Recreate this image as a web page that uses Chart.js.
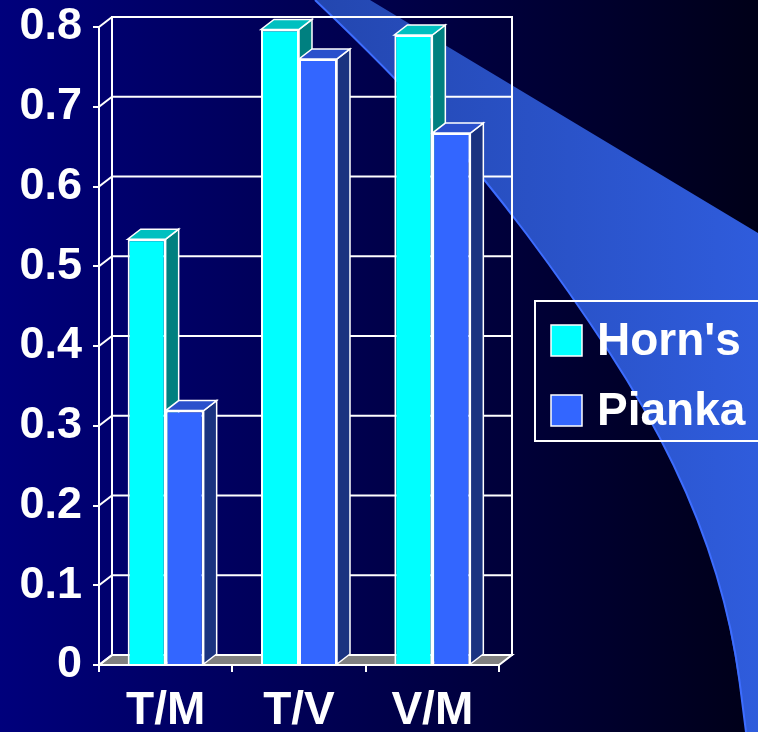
<!DOCTYPE html>
<html>
<head>
<meta charset="utf-8">
<script src="https://cdn.jsdelivr.net/npm/chart.js@4"></script>
<style>
  html, body { margin: 0; padding: 0; background: #000060; overflow: hidden; }
  #wrap { width: 758px; height: 732px; position: relative; }
</style>
</head>
<body>
<div id="wrap"><canvas id="chart"></canvas></div>
<script>
// chart data
const categories = ['T/M', 'T/V', 'V/M'];
const hornsValues = [0.534, 0.797, 0.79];
const piankaValues = [0.319, 0.76, 0.667];
const yTicks = [0, 0.1, 0.2, 0.3, 0.4, 0.5, 0.6, 0.7, 0.8];

// 3d depth of the bars / walls
const depth = { x: 13, y: -10 };
const font = '"Liberation Sans", Arial, sans-serif';

// face colours for each series: front, top, side
const faces = [
    { front: '#00FFFF', top: '#00C0C0', side: '#008080' },
    { front: '#3366FF', top: '#2A50CC', side: '#1A3380' }
];

// background with the blue swoosh
const backdrop = {
    id: 'backdrop',
    beforeDraw(chart) {
        const ctx = chart.ctx;
        const w = chart.width, h = chart.height;
        ctx.save();
        let g = ctx.createLinearGradient(0, 0, w, 0);
        g.addColorStop(0, '#00007C');
        g.addColorStop(0.45, '#000050');
        g.addColorStop(1, '#000018');
        ctx.fillStyle = g;
        ctx.fillRect(0, 0, w, h);

        // curved lower edge of the swoosh
        const pts = [[315, 0], [392, 73], [483, 176], [570, 292], [647, 410], [700, 520], [733, 630], [746, 732]];
        ctx.beginPath();
        ctx.moveTo(370, 0);
        ctx.lineTo(w, 233);
        ctx.lineTo(w, h);
        ctx.lineTo(pts[pts.length - 1][0], pts[pts.length - 1][1]);
        for (let i = pts.length - 2; i > 0; i--) {
            const mx = (pts[i][0] + pts[i - 1][0]) / 2, my = (pts[i][1] + pts[i - 1][1]) / 2;
            ctx.quadraticCurveTo(pts[i][0], pts[i][1], mx, my);
        }
        ctx.lineTo(pts[0][0], pts[0][1]);
        ctx.closePath();
        g = ctx.createLinearGradient(300, 0, w, 0);
        g.addColorStop(0, '#2346AE');
        g.addColorStop(1, '#2F5CDC');
        ctx.fillStyle = g;
        ctx.fill();

        // bright edge along the curve
        ctx.beginPath();
        ctx.moveTo(pts[0][0], pts[0][1]);
        for (let i = 1; i < pts.length - 1; i++) {
            const mx = (pts[i][0] + pts[i + 1][0]) / 2, my = (pts[i][1] + pts[i + 1][1]) / 2;
            ctx.quadraticCurveTo(pts[i][0], pts[i][1], mx, my);
        }
        ctx.lineTo(pts[pts.length - 1][0], pts[pts.length - 1][1]);
        ctx.strokeStyle = '#3D6DFF';
        ctx.lineWidth = 2;
        ctx.stroke();
        ctx.restore();
    }
};

// back wall, left wall, floor and the side/top faces of the bars
const box3d = {
    id: 'box3d',
    beforeDatasetsDraw(chart) {
        const ctx = chart.ctx;
        const xs = chart.scales.x, ys = chart.scales.y;
        const l = xs.left, r = xs.right, t = ys.top, b = ys.bottom;
        ctx.save();
        ctx.strokeStyle = '#FFFFFF';
        ctx.lineWidth = 2;

        // floor
        ctx.beginPath();
        ctx.moveTo(l, b);
        ctx.lineTo(r, b);
        ctx.lineTo(r + depth.x, b + depth.y);
        ctx.lineTo(l + depth.x, b + depth.y);
        ctx.closePath();
        ctx.fillStyle = '#808080';
        ctx.fill();
        ctx.stroke();

        // back wall outline and grid
        ctx.strokeRect(l + depth.x, t + depth.y, r - l, b - t);
        yTicks.forEach(v => {
            const py = ys.getPixelForValue(v);
            ctx.beginPath();
            ctx.moveTo(l + depth.x, py + depth.y);
            ctx.lineTo(r + depth.x, py + depth.y);
            ctx.stroke();
            // left wall diagonals
            ctx.beginPath();
            ctx.moveTo(l, py);
            ctx.lineTo(l + depth.x, py + depth.y);
            ctx.stroke();
        });

        // bar tops and sides
        ctx.lineWidth = 1.5;
        chart.data.datasets.forEach((ds, i) => {
            chart.getDatasetMeta(i).data.forEach(bar => {
                const p = bar.getProps(['x', 'y', 'base', 'width'], true);
                const bl = p.x - p.width / 2, br = p.x + p.width / 2;
                ctx.beginPath();
                ctx.moveTo(br, p.y);
                ctx.lineTo(br + depth.x, p.y + depth.y);
                ctx.lineTo(br + depth.x, p.base + depth.y);
                ctx.lineTo(br, p.base);
                ctx.closePath();
                ctx.fillStyle = faces[i].side;
                ctx.fill();
                ctx.stroke();
                ctx.beginPath();
                ctx.moveTo(bl, p.y);
                ctx.lineTo(br, p.y);
                ctx.lineTo(br + depth.x, p.y + depth.y);
                ctx.lineTo(bl + depth.x, p.y + depth.y);
                ctx.closePath();
                ctx.fillStyle = faces[i].top;
                ctx.fill();
                ctx.stroke();
            });
        });
        ctx.restore();
    }
};

// legend box at the right, partly off the slide
const legendBox = {
    id: 'legendBox',
    afterDraw(chart) {
        const ctx = chart.ctx;
        ctx.save();
        ctx.strokeStyle = '#FFFFFF';
        ctx.lineWidth = 2;
        ctx.strokeRect(535, 301, 250, 140);
        ctx.font = 'bold 46px ' + font;
        ctx.textBaseline = 'middle';
        ctx.textAlign = 'left';
        chart.data.datasets.forEach((ds, i) => {
            const cy = 340 + i * 70;
            ctx.fillStyle = ds.backgroundColor;
            ctx.fillRect(551, cy - 15, 31, 31);
            ctx.lineWidth = 1.5;
            ctx.strokeRect(551, cy - 15, 31, 31);
            ctx.fillStyle = '#FFFFFF';
            ctx.fillText(ds.label, 597, cy + 2);
        });
        ctx.restore();
    }
};

const ctx = document.getElementById('chart').getContext('2d');
const chart = new Chart(ctx, {
    type: 'bar',
    data: {
        labels: categories,
        datasets: [{
            label: "Horn's",
            data: hornsValues,
            backgroundColor: faces[0].front,
            borderColor: '#FFFFFF',
            borderWidth: 2,
            borderSkipped: 'bottom'
        }, {
            label: 'Pianka',
            data: piankaValues,
            backgroundColor: faces[1].front,
            borderColor: '#FFFFFF',
            borderWidth: 2,
            borderSkipped: 'bottom'
        }]
    },
    options: {
        responsive: true,
        maintainAspectRatio: false,
        animation: false,
        layout: { padding: { left: 0, top: 27, right: 259, bottom: 0 } },
        datasets: { bar: { barPercentage: 1, categoryPercentage: 0.57 } },
        plugins: {
            legend: { display: false },
            tooltip: { enabled: false }
        },
        scales: {
            x: {
                afterFit: s => { s.height = 67; s.paddingLeft = 0; s.paddingRight = 0; },
                grid: { display: true, drawOnChartArea: false, drawTicks: true, tickLength: 7, color: '#FFFFFF', lineWidth: 2, offset: true },
                border: { display: true, color: '#FFFFFF', width: 2 },
                ticks: { color: '#FFFFFF', padding: 12, font: { family: font, size: 46, weight: 'bold' } }
            },
            y: {
                min: 0,
                max: 0.8,
                afterFit: s => { s.width = 99; s.paddingTop = 0; s.paddingBottom = 0; },
                afterBuildTicks: s => { s.ticks = yTicks.map(v => ({ value: v })); },
                grid: { display: true, drawOnChartArea: false, drawTicks: true, tickLength: 6, color: '#FFFFFF', lineWidth: 2 },
                border: { display: true, color: '#FFFFFF', width: 2 },
                ticks: { color: '#FFFFFF', padding: 11, font: { family: font, size: 45, weight: 'bold' } }
            }
        }
    },
    plugins: [backdrop, box3d, legendBox]
});
</script>
</body>
</html>
